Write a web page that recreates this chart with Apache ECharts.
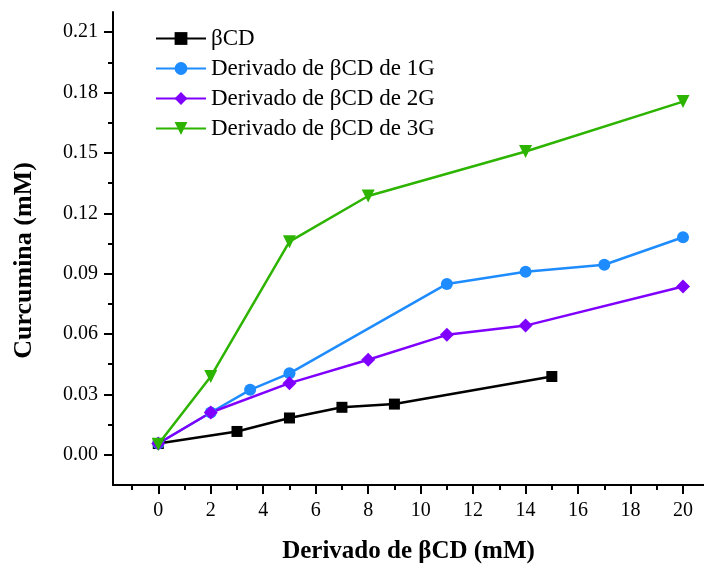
<!DOCTYPE html>
<html>
<head>
<meta charset="utf-8">
<script src="https://cdn.jsdelivr.net/npm/echarts@6/dist/echarts.min.js"></script>
<style>
  html, body { margin: 0; padding: 0; background: #fff; }
  #main { width: 704px; height: 564px; }
</style>
</head>
<body>
<div id="main"></div>
<script>
// datos
var xBCD = [0, 3, 5, 7, 9, 15];
var yBCD = [0.0056, 0.0116, 0.0183, 0.0236, 0.0252, 0.0389];
var x1G = [0, 2, 3.5, 5, 11, 14, 17, 20];
var y1G = [0.0056, 0.021, 0.0323, 0.0405, 0.0849, 0.091, 0.0944, 0.1081];
var x2G = [0, 2, 5, 8, 11, 14, 20];
var y2G = [0.0056, 0.021, 0.0356, 0.0472, 0.0596, 0.0642, 0.0836];
var x3G = [0, 2, 5, 8, 14, 20];
var y3G = [0.0052, 0.0389, 0.1059, 0.1286, 0.1507, 0.1755];

var seriesNames = ['βCD', 'Derivado de βCD de 1G', 'Derivado de βCD de 2G', 'Derivado de βCD de 3G'];
var xMajor = [0, 2, 4, 6, 8, 10, 12, 14, 16, 18, 20];
var xMinor = [-1, 1, 3, 5, 7, 9, 11, 13, 15, 17, 19];
var yMajor = [0, 0.03, 0.06, 0.09, 0.12, 0.15, 0.18, 0.21];
var yMinor = [0.015, 0.045, 0.075, 0.105, 0.135, 0.165, 0.195];

function pares(xs, ys) {
  var out = [];
  for (var i = 0; i < xs.length; i++) out.push([xs[i], ys[i]]);
  return out;
}

var fuente = "'Liberation Serif', 'Times New Roman', serif";
var ejeLinea = { show: true, onZero: false, lineStyle: { color: '#000', width: 2 } };

var myChart = echarts.init(document.getElementById('main'));
var option = {
  backgroundColor: '#fff',
  animation: false,
  grid: { left: 113, right: 0, top: 12, bottom: 79, containLabel: false, outerBoundsMode: 'none' },
  legend: {
    left: 155,
    top: 27,
    padding: 0,
    orient: 'vertical',
    itemWidth: 50,
    itemHeight: 16,
    itemGap: 7,
    data: seriesNames,
    textStyle: { fontFamily: fuente, fontSize: 23, color: '#000', lineHeight: 22 }
  },
  xAxis: [{
    type: 'value',
    position: 'bottom',
    min: -1.726,
    max: 20.8,
    axisLine: ejeLinea,
    splitLine: { show: false },
    axisTick: { show: true, inside: false, length: 9, customValues: xMajor, lineStyle: { color: '#000', width: 2 } },
    axisLabel: { customValues: xMajor, margin: 16, fontFamily: fuente, fontSize: 20, color: '#000' },
    name: 'Derivado de βCD (mM)',
    nameLocation: 'middle',
    nameGap: 54,
    nameTextStyle: { fontFamily: fuente, fontSize: 25, fontWeight: 'bold', color: '#000' }
  }, {
    // marcas menores
    type: 'value',
    position: 'bottom',
    min: -1.726,
    max: 20.8,
    axisLine: { show: false, onZero: false },
    splitLine: { show: false },
    axisTick: { show: true, inside: false, length: 5, customValues: xMinor, lineStyle: { color: '#000', width: 2 } },
    axisLabel: { show: false }
  }],
  yAxis: [{
    type: 'value',
    position: 'left',
    min: -0.015,
    max: 0.22,
    axisLine: ejeLinea,
    splitLine: { show: false },
    axisTick: { show: true, inside: false, length: 9, customValues: yMajor, lineStyle: { color: '#000', width: 2 } },
    axisLabel: {
      customValues: yMajor, margin: 15, fontFamily: fuente, fontSize: 20, color: '#000',
      formatter: function (v) { return v.toFixed(2); }
    },
    name: 'Curcumina (mM)',
    nameLocation: 'middle',
    nameGap: 76,
    nameTextStyle: { fontFamily: fuente, fontSize: 26, fontWeight: 'bold', color: '#000', padding: [0, 24, 0, 0] }
  }, {
    // marcas menores
    type: 'value',
    position: 'left',
    min: -0.015,
    max: 0.22,
    axisLine: { show: false, onZero: false },
    splitLine: { show: false },
    axisTick: { show: true, inside: false, length: 5, customValues: yMinor, lineStyle: { color: '#000', width: 2 } },
    axisLabel: { show: false }
  }],
  series: [{
    name: seriesNames[0],
    type: 'line',
    data: pares(xBCD, yBCD),
    symbol: 'rect',
    symbolSize: 11,
    color: '#000000',
    lineStyle: { width: 2.5 }
  }, {
    name: seriesNames[1],
    type: 'line',
    data: pares(x1G, y1G),
    symbol: 'circle',
    symbolSize: 12,
    color: '#1E8CFF',
    lineStyle: { width: 2.5 }
  }, {
    name: seriesNames[2],
    type: 'line',
    data: pares(x2G, y2G),
    symbol: 'diamond',
    symbolSize: 14,
    color: '#8000FF',
    lineStyle: { width: 2.5 }
  }, {
    name: seriesNames[3],
    type: 'line',
    data: pares(x3G, y3G),
    symbol: 'triangle',
    symbolRotate: 180,
    symbolSize: 13,
    color: '#2DB400',
    lineStyle: { width: 2.5 }
  }]
};
myChart.setOption(option);
</script>
</body>
</html>
